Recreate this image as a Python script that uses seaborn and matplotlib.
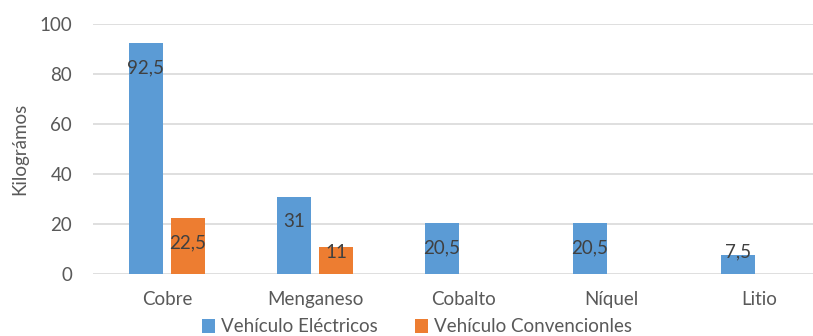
import numpy as np
import pandas as pd
import matplotlib
matplotlib.use("Agg")
import matplotlib.pyplot as plt
import seaborn as sns
from matplotlib.patches import Patch

categories = ["Cobre", "Menganeso", "Cobalto", "Níquel", "Litio"]
electricos = [92.5, 31, 20.5, 20.5, 7.5]
convencionales = [22.5, 11, None, None, None]
series_names = ["Vehículo Eléctricos", "Vehículo Convencionles"]
colors = ["#5B9BD5", "#ED7D31"]
yticks = [0, 20, 40, 60, 80, 100]

rows = []
for c, e, v in zip(categories, electricos, convencionales):
    if e is not None:
        rows.append({"cat": c, "serie": series_names[0], "val": e})
    if v is not None:
        rows.append({"cat": c, "serie": series_names[1], "val": v})
df = pd.DataFrame(rows)

sns.set_style("white")
plt.rcParams["font.family"] = ["Lato", "DejaVu Sans"]

FS = 13.5

fig = plt.figure(figsize=(8.13, 3.36), dpi=100)
ax = fig.add_axes([93 / 813, 1 - 274 / 336, 720 / 813, 250 / 336])

sns.barplot(data=df, x="cat", y="val", hue="serie", order=categories,
            hue_order=series_names, palette=colors, width=0.57, gap=0.19,
            saturation=1, ax=ax, legend=False, errorbar=None, linewidth=0)

ax.set_ylim(0, 100)
ax.set_xlim(-0.5, -0.5 + 720 / 148)
ax.set_yticks(yticks)
ax.set_yticklabels([str(t) for t in yticks])
ax.yaxis.grid(True, color="#D9D9D9", linewidth=1.2)
ax.set_axisbelow(True)
for s in ax.spines.values():
    s.set_visible(False)
ax.tick_params(axis="both", length=0, labelsize=FS, colors="#595959")
ax.tick_params(axis="y", pad=15)
ax.tick_params(axis="x", pad=12)
ax.set_xlabel("")
ax.set_ylabel("Kilográmos", fontsize=FS, color="#595959", labelpad=8)

for cont in ax.containers:
    for p in cont.patches:
        h = p.get_height()
        if h is None or np.isnan(h) or h == 0:
            continue
        x = p.get_x() + p.get_width() / 2
        y = max(h - 10, 8.8)
        ax.text(x, y, f"{h:g}".replace(".", ","), ha="center", va="center",
                fontsize=FS, color="#404040")

handles = [Patch(facecolor=c, edgecolor="none") for c in colors]
fig.legend(handles, series_names, loc="center", bbox_to_anchor=(417 / 813, 1 - 327 / 336),
           ncol=2, frameon=False, fontsize=FS, handlelength=0.7, handleheight=0.7,
           handletextpad=0.3, columnspacing=2.0, labelcolor="#595959",
           borderpad=0, borderaxespad=0)

fig.savefig("out.png", dpi=100)
